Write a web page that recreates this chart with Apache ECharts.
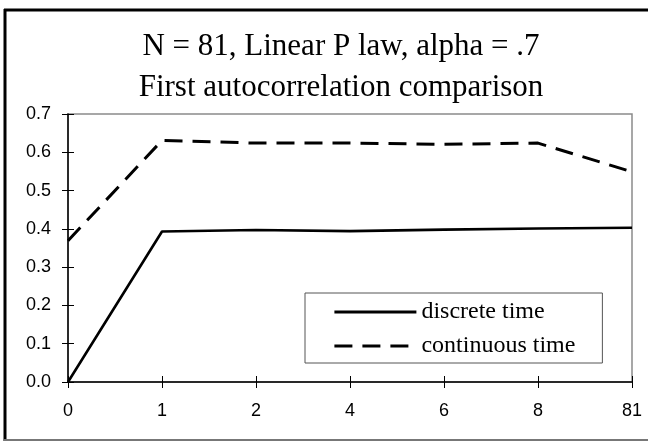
<!DOCTYPE html>
<html>
<head>
<meta charset="utf-8">
<script src="https://cdn.jsdelivr.net/npm/echarts@6/dist/echarts.min.js"></script>
<style>
html,body{margin:0;padding:0;background:#fff;}
#chart{width:648px;height:441px;}
</style>
</head>
<body>
<div id="chart"></div>
<script>
var titleLines = ['N = 81, Linear P law, alpha = .7', 'First autocorrelation comparison'];
var categories = ['0', '1', '2', '4', '6', '8', '81'];
var discreteTime = [0, 0.393, 0.397, 0.394, 0.398, 0.401, 0.403];
var continuousTime = [0.369, 0.631, 0.624, 0.624, 0.621, 0.624, 0.549];
var seriesNames = ['discrete time', 'continuous time'];

var chart = echarts.init(document.getElementById('chart'));
var labelFont = {fontFamily: 'Liberation Sans', fontSize: 18, color: '#000'};
chart.setOption({
  animation: false,
  backgroundColor: '#fff',
  title: {
    text: titleLines.join('\n'),
    left: 341,
    top: 26,
    padding: 0,
    textAlign: 'center',
    textStyle: {fontFamily: 'Liberation Serif', fontSize: 31, fontWeight: 'normal', color: '#000', lineHeight: 41}
  },
  grid: {left: 68, right: 16, top: 114, bottom: 59, show: true, borderColor: '#8a8a8a', borderWidth: 1.5, backgroundColor: '#fff'},
  legend: {
    orient: 'vertical',
    left: 305,
    top: 293,
    padding: [7, 27, 5, 28],
    borderColor: '#555',
    borderWidth: 1,
    backgroundColor: '#fff',
    itemWidth: 82,
    itemHeight: 14,
    itemGap: 10,
    itemStyle: {color: 'rgba(0,0,0,0)', borderWidth: 0, opacity: 0},
    lineStyle: {width: 2.8},
    textStyle: {fontFamily: 'Liberation Serif', fontSize: 24, color: '#000', lineHeight: 24},
    data: seriesNames
  },
  xAxis: [{
    type: 'category',
    data: categories,
    boundaryGap: false,
    axisLine: {lineStyle: {color: '#000', width: 1.5}},
    axisTick: {show: true, length: 6, lineStyle: {color: '#000', width: 1}},
    axisLabel: Object.assign({margin: 20}, labelFont),
    splitLine: {show: false}
  }, {
    type: 'category',
    data: categories,
    boundaryGap: false,
    position: 'bottom',
    axisLine: {show: false},
    axisTick: {show: true, inside: true, length: 6, lineStyle: {color: '#000', width: 1}},
    axisLabel: {show: false},
    splitLine: {show: false}
  }],
  yAxis: [{
    type: 'value',
    min: 0,
    max: 0.7,
    interval: 0.1,
    axisLine: {show: true, lineStyle: {color: '#000', width: 1.5}},
    axisTick: {show: true, length: 6, lineStyle: {color: '#000', width: 1}},
    axisLabel: Object.assign({margin: 17, formatter: function (v) { return v.toFixed(1); }}, labelFont),
    splitLine: {show: false}
  }, {
    type: 'value',
    min: 0,
    max: 0.7,
    interval: 0.1,
    position: 'left',
    axisLine: {show: false},
    axisTick: {show: true, inside: true, length: 6, lineStyle: {color: '#000', width: 1}},
    axisLabel: {show: false},
    splitLine: {show: false}
  }],
  series: [{
    name: seriesNames[0],
    type: 'line',
    data: discreteTime,
    symbol: 'none',
    lineStyle: {color: '#000', width: 2.6, type: 'solid'},
    itemStyle: {color: '#000'},
    z: 3
  }, {
    name: seriesNames[1],
    type: 'line',
    data: continuousTime,
    symbol: 'none',
    lineStyle: {color: '#000', width: 3, type: [18, 10]},
    itemStyle: {color: '#000'},
    z: 3
  }],
  graphic: [
    {type: 'line', shape: {x1: 5, y1: 9, x2: 5, y2: 441}, style: {stroke: '#000', lineWidth: 3}},
    {type: 'line', shape: {x1: 4, y1: 10, x2: 648, y2: 10}, style: {stroke: '#000', lineWidth: 3}},
    {type: 'line', shape: {x1: 4, y1: 440, x2: 648, y2: 440}, style: {stroke: '#777', lineWidth: 2}}
  ]
});
</script>
</body>
</html>
